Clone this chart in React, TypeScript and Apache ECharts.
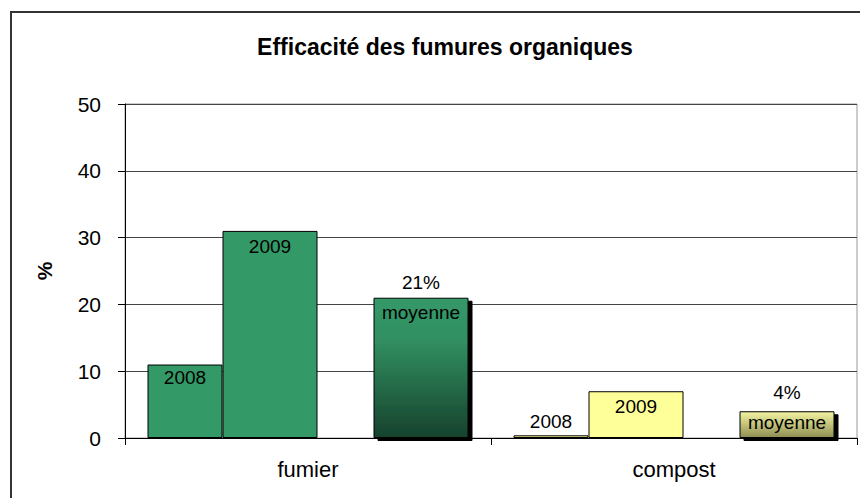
import React, { useEffect, useRef } from "react";
import * as echarts from "echarts";

const titleText = "Efficacité des fumures organiques";
const categories = ["fumier", "compost"];
const yAxisName = "%";
const series2008 = [11, 0.4];
const series2009 = [31, 7];
const seriesMoyenne = [21, 4];
const seriesNames = ["2008", "2009", "moyenne"];
const yMin = 0;
const yMax = 50;
const yInterval = 10;

const FONT = "Liberation Sans, Arial, sans-serif";

export default function App() {
  const ref = useRef<HTMLDivElement>(null);
  useEffect(() => {
    if (!ref.current) return;
    const chart = echarts.init(ref.current, undefined, { renderer: "svg" });

    const plainFill = ["#339966", "#FFFF99"];
    const gradFill = [
      new echarts.graphic.LinearGradient(0, 0, 0, 1, [
        { offset: 0, color: "#35996a" },
        { offset: 0.3, color: "#318f61" },
        { offset: 1, color: "#17422d" },
      ]),
      new echarts.graphic.LinearGradient(0, 0, 0, 1, [
        { offset: 0, color: "#f4f4a2" },
        { offset: 1, color: "#8e8e52" },
      ]),
    ];

    const labelBase = {
      show: true,
      color: "#000",
      fontFamily: FONT,
      fontSize: 19,
      formatter: "{a}",
    };

    const d2008 = series2008.map((v, i) => ({
      value: v,
      itemStyle: { color: plainFill[i] },
      label:
        i === 0
          ? { ...labelBase, position: "insideTop", distance: 3 }
          : { ...labelBase, position: "top", distance: 4 },
    }));
    const d2009 = series2009.map((v, i) => ({
      value: v,
      itemStyle: { color: plainFill[i] },
      label: { ...labelBase, position: "insideTop", distance: 6 },
    }));
    const moyOffsets = [29.5, 26];
    const dMoy = seriesMoyenne.map((v, i) => ({
      value: v,
      itemStyle: { color: gradFill[i] },
      label: {
        show: true,
        position: "top",
        distance: 0,
        offset: [0, moyOffsets[i]],
        formatter: "{p|{c}%}\n{n|{a}}",
        rich: {
          p: { fontFamily: FONT, fontSize: 19, color: "#000", lineHeight: 30 },
          n: { fontFamily: FONT, fontSize: 19, color: "#000", lineHeight: 30 },
        },
      },
    }));

    const barBorder = { borderColor: "#000", borderWidth: 1 };

    chart.setOption({
      animation: false,
      backgroundColor: "#fff",
      title: {
        text: titleText,
        left: 440,
        textAlign: "center",
        top: 30,
        textStyle: { fontFamily: FONT, fontSize: 23, fontWeight: "bold", color: "#000" },
      },
      graphic: [
        {
          type: "rect",
          shape: { x: 11, y: 12, width: 1000, height: 1000 },
          style: { fill: "none", stroke: "#333", lineWidth: 2 },
          silent: true,
          z: -1,
        },
      ],
      grid: { left: 125, right: 3, top: 104, bottom: 60, show: true, borderColor: "#999", borderWidth: 1, backgroundColor: "transparent" },
      xAxis: {
        type: "category",
        data: categories,
        axisLine: { lineStyle: { color: "#000", width: 1 } },
        axisTick: { show: true, length: 7, lineStyle: { color: "#000" } },
        axisLabel: { fontFamily: FONT, fontSize: 22, color: "#000", margin: 20 },
      },
      yAxis: {
        type: "value",
        min: yMin,
        max: yMax,
        interval: yInterval,
        name: yAxisName,
        nameLocation: "middle",
        nameGap: 70,
        nameTextStyle: { fontFamily: FONT, fontSize: 21, fontWeight: "bold", color: "#000" },
        axisLine: { show: true, lineStyle: { color: "#000", width: 1 } },
        axisTick: { show: true, length: 7, lineStyle: { color: "#000" } },
        axisLabel: { fontFamily: FONT, fontSize: 21, color: "#000", margin: 24 },
        splitLine: { show: true, lineStyle: { color: "#444", width: 1 } },
      },
      series: [
        {
          name: seriesNames[0],
          type: "bar",
          barWidth: 75,
          barGap: 0,
          data: d2008,
          itemStyle: barBorder,
        },
        {
          name: seriesNames[1],
          type: "bar",
          barWidth: 95,
          barGap: 0,
          data: d2009,
          itemStyle: barBorder,
        },
        {
          name: "",
          type: "bar",
          barWidth: 56,
          barGap: 0,
          data: ["-", "-"],
          silent: true,
        },
        {
          name: seriesNames[2],
          type: "bar",
          barWidth: 95,
          barGap: 0,
          data: dMoy,
          itemStyle: { ...barBorder, shadowColor: "#000", shadowBlur: 0, shadowOffsetX: 4, shadowOffsetY: 3 },
        },
      ],
    });
    return () => chart.dispose();
  }, []);
  return (
    <div
      ref={ref}
      style={{ position: "fixed", left: 0, top: 0, width: 860, height: 498 }}
    />
  );
}
